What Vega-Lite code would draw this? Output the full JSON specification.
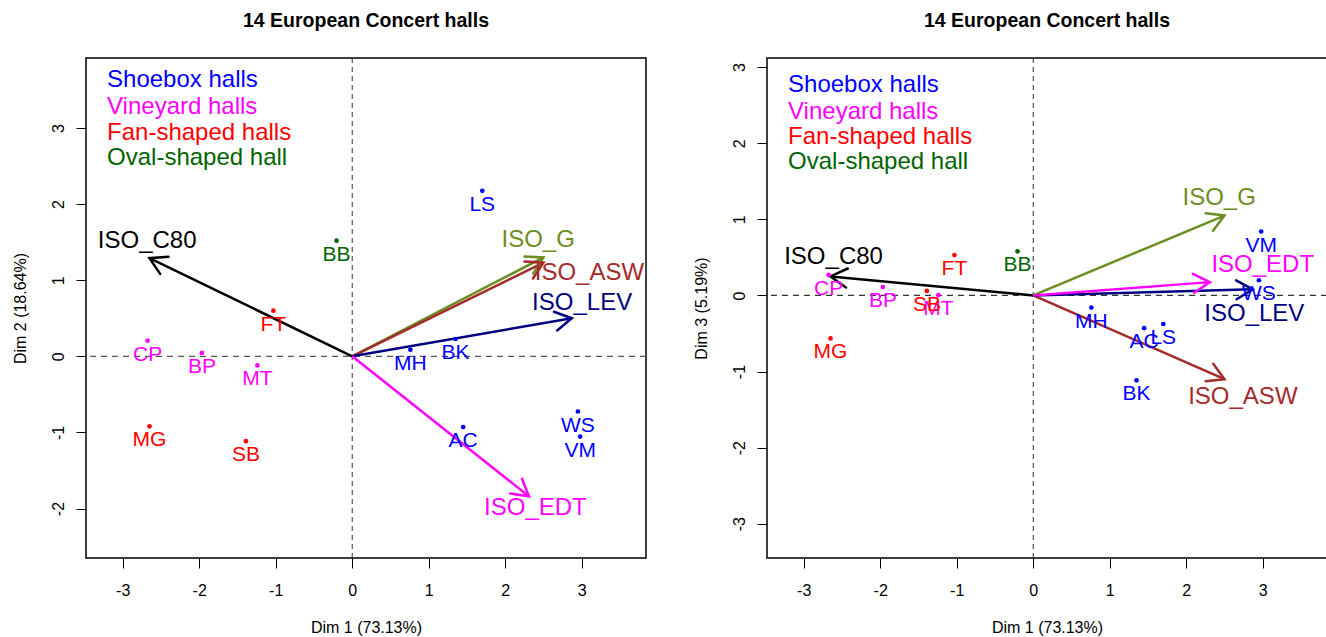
{
  "$schema": "https://vega.github.io/schema/vega-lite/v6.json",
  "padding": {"left": 11, "top": 10, "right": 0, "bottom": 0},
  "spacing": 44,
  "background": "white",
  "datasets": {
    "halls": [
      {"hall": "LS", "type": "Shoebox", "d1": 1.70, "d2": 2.175, "d3": -0.375},
      {"hall": "MH", "type": "Shoebox", "d1": 0.76, "d2": 0.088, "d3": -0.16},
      {"hall": "BK", "type": "Shoebox", "d1": 1.35, "d2": 0.228, "d3": -1.115},
      {"hall": "AC", "type": "Shoebox", "d1": 1.45, "d2": -0.93, "d3": -0.43},
      {"hall": "WS", "type": "Shoebox", "d1": 2.95, "d2": -0.725, "d3": 0.20},
      {"hall": "VM", "type": "Shoebox", "d1": 2.98, "d2": -1.054, "d3": 0.84},
      {"hall": "CP", "type": "Vineyard", "d1": -2.675, "d2": 0.206, "d3": 0.27},
      {"hall": "BP", "type": "Vineyard", "d1": -1.965, "d2": 0.045, "d3": 0.11},
      {"hall": "MT", "type": "Vineyard", "d1": -1.24, "d2": -0.12, "d3": 0.005},
      {"hall": "FT", "type": "Fan", "d1": -1.03, "d2": 0.60, "d3": 0.53},
      {"hall": "MG", "type": "Fan", "d1": -2.65, "d2": -0.92, "d3": -0.565},
      {"hall": "SB", "type": "Fan", "d1": -1.39, "d2": -1.115, "d3": 0.06},
      {"hall": "BB", "type": "Oval", "d1": -0.205, "d2": 1.52, "d3": 0.58}
    ],
    "vars": [
      {"name": "ISO_C80", "d1": -2.65, "d2": 1.29, "d3": 0.25, "lx2": -2.68, "ly2": 1.51, "lx3": -2.61, "ly3": 0.50},
      {"name": "ISO_G", "d1": 2.50, "d2": 1.30, "d3": 1.05, "lx2": 2.43, "ly2": 1.53, "lx3": 2.43, "ly3": 1.275},
      {"name": "ISO_ASW", "d1": 2.50, "d2": 1.23, "d3": -1.10, "lx2": 3.10, "ly2": 1.09, "lx3": 2.74, "ly3": -1.34},
      {"name": "ISO_LEV", "d1": 2.87, "d2": 0.50, "d3": 0.08, "lx2": 3.005, "ly2": 0.70, "lx3": 2.89, "ly3": -0.25},
      {"name": "ISO_EDT", "d1": 2.31, "d2": -1.84, "d3": 0.175, "lx2": 2.394, "ly2": -1.995, "lx3": 3.0, "ly3": 0.40}
    ],
    "legend": [
      {"label": "Shoebox halls", "type": "Shoebox", "lx": -3.205, "ly2": 3.63, "ly3": 2.765},
      {"label": "Vineyard halls", "type": "Vineyard", "lx": -3.205, "ly2": 3.27, "ly3": 2.415},
      {"label": "Fan-shaped halls", "type": "Fan", "lx": -3.205, "ly2": 2.94, "ly3": 2.087},
      {"label": "Oval-shaped hall", "type": "Oval", "lx": -3.205, "ly2": 2.60, "ly3": 1.75}
    ],
    "origin": [{"o": 0}]
  },
  "config": {
    "font": "Liberation Sans",
    "view": {"stroke": "black", "strokeWidth": 1.5},
    "axis": {
      "grid": false, "domain": false, "tickColor": "black", "tickSize": 10, "tickWidth": 1,
      "labelFontSize": 16, "labelColor": "black", "labelFont": "Liberation Sans", "labelExpr": "'' + datum.value",
      "titleFontSize": 16, "titleFontWeight": "normal", "titleColor": "black", "titleFont": "Liberation Sans"
    },
    "axisX": {"labelPadding": 14, "titlePadding": 21},
    "axisY": {"labelAngle": -90, "labelAlign": "center", "labelBaseline": "bottom", "labelPadding": 10, "titlePadding": 22},
    "title": {"fontSize": 19.5, "fontWeight": "bold", "font": "Liberation Sans", "anchor": "middle", "frame": "group", "color": "black", "baseline": "alphabetic", "offset": 26}
  },
  "hconcat": [
    {
      "title": "14 European Concert halls",
      "width": 560,
      "height": 500,
      "resolve": {"scale": {"color": "independent"}},
      "layer": [
        {
          "data": {"name": "origin"},
          "mark": {"type": "rule", "color": "#555555", "strokeDash": [6, 5], "strokeWidth": 1.2},
          "encoding": {"y": {"field": "o", "type": "quantitative", "scale": {"domain": [-2.65, 3.92], "nice": false, "zero": false}}}
        },
        {
          "data": {"name": "origin"},
          "mark": {"type": "rule", "color": "#333333", "strokeDash": [5, 4], "strokeWidth": 1},
          "encoding": {"x": {"field": "o", "type": "quantitative", "scale": {"domain": [-3.48, 3.84], "nice": false, "zero": false}}}
        },
        {
          "data": {"name": "legend"},
          "mark": {"type": "text", "align": "left", "baseline": "middle", "fontSize": 24},
          "encoding": {
            "x": {"field": "lx", "type": "quantitative"},
            "y": {"field": "ly2", "type": "quantitative"},
            "text": {"field": "label"},
            "color": {"field": "type", "type": "nominal", "scale": {"domain": ["Shoebox", "Vineyard", "Fan", "Oval"], "range": ["#0000FF", "#FF00FF", "#FF0000", "#006400"]}, "legend": null}
          }
        },
        {
          "data": {"name": "vars"},
          "mark": {"type": "rule", "strokeWidth": 2.5},
          "encoding": {
            "x": {"field": "d1", "type": "quantitative"},
            "y": {"field": "d2", "type": "quantitative"},
            "x2": {"datum": 0},
            "y2": {"datum": 0},
            "color": {"field": "name", "type": "nominal", "scale": {"domain": ["ISO_C80", "ISO_G", "ISO_ASW", "ISO_LEV", "ISO_EDT"], "range": ["#000000", "#6B8E23", "#A52A2A", "#000080", "#FF00FF"]}, "legend": null}
          }
        },
        {
          "data": {"name": "vars"},
          "transform": [{"calculate": "-atan2(datum.d2, datum.d1) * 180 / PI", "as": "heading"}],
          "mark": {"type": "point", "shape": "M-0.866,-0.5L0,0L-0.866,0.5", "filled": false, "strokeWidth": 2.5, "size": 1444, "opacity": 1, "strokeCap": "round"},
          "encoding": {
            "x": {"field": "d1", "type": "quantitative"},
            "y": {"field": "d2", "type": "quantitative"},
            "angle": {"field": "heading", "type": "quantitative", "scale": null},
            "color": {"field": "name", "type": "nominal", "scale": {"domain": ["ISO_C80", "ISO_G", "ISO_ASW", "ISO_LEV", "ISO_EDT"], "range": ["#000000", "#6B8E23", "#A52A2A", "#000080", "#FF00FF"]}, "legend": null}
          }
        },
        {
          "data": {"name": "vars"},
          "mark": {"type": "text", "align": "center", "baseline": "middle", "fontSize": 24, "clip": true},
          "encoding": {
            "x": {"field": "lx2", "type": "quantitative"},
            "y": {"field": "ly2", "type": "quantitative"},
            "text": {"field": "name"},
            "color": {"field": "name", "type": "nominal", "scale": {"domain": ["ISO_C80", "ISO_G", "ISO_ASW", "ISO_LEV", "ISO_EDT"], "range": ["#000000", "#6B8E23", "#A52A2A", "#000080", "#FF00FF"]}, "legend": null}
          }
        },
        {
          "data": {"name": "halls"},
          "mark": {"type": "point", "filled": true, "size": 22, "opacity": 1},
          "encoding": {
            "x": {"field": "d1", "type": "quantitative"},
            "y": {"field": "d2", "type": "quantitative"},
            "color": {"field": "type", "type": "nominal", "scale": {"domain": ["Shoebox", "Vineyard", "Fan", "Oval"], "range": ["#0000FF", "#FF00FF", "#FF0000", "#006400"]}, "legend": null}
          }
        },
        {
          "data": {"name": "halls"},
          "mark": {"type": "text", "align": "center", "baseline": "middle", "fontSize": 21, "dy": 14},
          "encoding": {
            "x": {"field": "d1", "type": "quantitative", "title": "Dim 1 (73.13%)", "axis": {"values": [-3, -2, -1, 0, 1, 2, 3]}},
            "y": {"field": "d2", "type": "quantitative", "title": "Dim 2 (18.64%)", "axis": {"values": [-2, -1, 0, 1, 2, 3]}},
            "text": {"field": "hall"},
            "color": {"field": "type", "type": "nominal", "scale": {"domain": ["Shoebox", "Vineyard", "Fan", "Oval"], "range": ["#0000FF", "#FF00FF", "#FF0000", "#006400"]}, "legend": null}
          }
        }
      ]
    },
    {
      "title": "14 European Concert halls",
      "width": 560,
      "height": 500,
      "resolve": {"scale": {"color": "independent"}},
      "layer": [
        {
          "data": {"name": "origin"},
          "mark": {"type": "rule", "color": "#333333", "strokeDash": [6, 5], "strokeWidth": 1.2},
          "encoding": {"y": {"field": "o", "type": "quantitative", "scale": {"domain": [-3.45, 3.12], "nice": false, "zero": false}}}
        },
        {
          "data": {"name": "origin"},
          "mark": {"type": "rule", "color": "#333333", "strokeDash": [5, 4], "strokeWidth": 1},
          "encoding": {"x": {"field": "o", "type": "quantitative", "scale": {"domain": [-3.48, 3.84], "nice": false, "zero": false}}}
        },
        {
          "data": {"name": "legend"},
          "mark": {"type": "text", "align": "left", "baseline": "middle", "fontSize": 24},
          "encoding": {
            "x": {"field": "lx", "type": "quantitative"},
            "y": {"field": "ly3", "type": "quantitative"},
            "text": {"field": "label"},
            "color": {"field": "type", "type": "nominal", "scale": {"domain": ["Shoebox", "Vineyard", "Fan", "Oval"], "range": ["#0000FF", "#FF00FF", "#FF0000", "#006400"]}, "legend": null}
          }
        },
        {
          "data": {"name": "vars"},
          "mark": {"type": "rule", "strokeWidth": 2.5},
          "encoding": {
            "x": {"field": "d1", "type": "quantitative"},
            "y": {"field": "d3", "type": "quantitative"},
            "x2": {"datum": 0},
            "y2": {"datum": 0},
            "color": {"field": "name", "type": "nominal", "scale": {"domain": ["ISO_C80", "ISO_G", "ISO_ASW", "ISO_LEV", "ISO_EDT"], "range": ["#000000", "#6B8E23", "#A52A2A", "#000080", "#FF00FF"]}, "legend": null}
          }
        },
        {
          "data": {"name": "vars"},
          "transform": [{"calculate": "-atan2(datum.d3, datum.d1) * 180 / PI", "as": "heading"}],
          "mark": {"type": "point", "shape": "M-0.866,-0.5L0,0L-0.866,0.5", "filled": false, "strokeWidth": 2.5, "size": 1444, "opacity": 1, "strokeCap": "round"},
          "encoding": {
            "x": {"field": "d1", "type": "quantitative"},
            "y": {"field": "d3", "type": "quantitative"},
            "angle": {"field": "heading", "type": "quantitative", "scale": null},
            "color": {"field": "name", "type": "nominal", "scale": {"domain": ["ISO_C80", "ISO_G", "ISO_ASW", "ISO_LEV", "ISO_EDT"], "range": ["#000000", "#6B8E23", "#A52A2A", "#000080", "#FF00FF"]}, "legend": null}
          }
        },
        {
          "data": {"name": "vars"},
          "mark": {"type": "text", "align": "center", "baseline": "middle", "fontSize": 24, "clip": true},
          "encoding": {
            "x": {"field": "lx3", "type": "quantitative"},
            "y": {"field": "ly3", "type": "quantitative"},
            "text": {"field": "name"},
            "color": {"field": "name", "type": "nominal", "scale": {"domain": ["ISO_C80", "ISO_G", "ISO_ASW", "ISO_LEV", "ISO_EDT"], "range": ["#000000", "#6B8E23", "#A52A2A", "#000080", "#FF00FF"]}, "legend": null}
          }
        },
        {
          "data": {"name": "halls"},
          "mark": {"type": "point", "filled": true, "size": 22, "opacity": 1},
          "encoding": {
            "x": {"field": "d1", "type": "quantitative"},
            "y": {"field": "d3", "type": "quantitative"},
            "color": {"field": "type", "type": "nominal", "scale": {"domain": ["Shoebox", "Vineyard", "Fan", "Oval"], "range": ["#0000FF", "#FF00FF", "#FF0000", "#006400"]}, "legend": null}
          }
        },
        {
          "data": {"name": "halls"},
          "mark": {"type": "text", "align": "center", "baseline": "middle", "fontSize": 21, "dy": 14},
          "encoding": {
            "x": {"field": "d1", "type": "quantitative", "title": "Dim 1 (73.13%)", "axis": {"values": [-3, -2, -1, 0, 1, 2, 3]}},
            "y": {"field": "d3", "type": "quantitative", "title": "Dim 3 (5.19%)", "axis": {"values": [-3, -2, -1, 0, 1, 2, 3]}},
            "text": {"field": "hall"},
            "color": {"field": "type", "type": "nominal", "scale": {"domain": ["Shoebox", "Vineyard", "Fan", "Oval"], "range": ["#0000FF", "#FF00FF", "#FF0000", "#006400"]}, "legend": null}
          }
        }
      ]
    }
  ]
}
